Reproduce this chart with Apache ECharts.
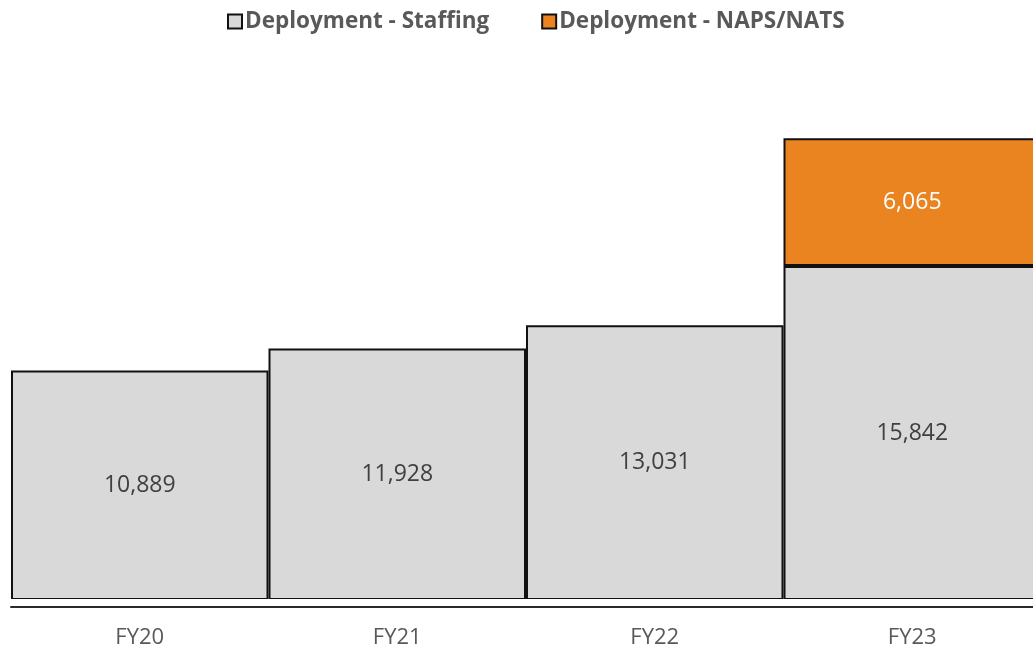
<!DOCTYPE html>
<html>
<head>
<meta charset="utf-8">
<script src="https://cdn.jsdelivr.net/npm/echarts@6/dist/echarts.min.js"></script>
<style>
  html, body { margin: 0; padding: 0; background: #ffffff; }
  #chart { width: 1033px; height: 650px; }
</style>
</head>
<body>
<div id="chart"></div>
<script>
// Fiscal years on the category axis
const categories = ['FY20', 'FY21', 'FY22', 'FY23'];
// Deployment counts per year
const staffing = [10889, 11928, 13031, 15842];
const napsNats = [null, null, null, 6065];
const seriesNames = ['Deployment - Staffing', 'Deployment - NAPS/NATS'];

const FONT = '"Open Sans", "Noto Sans", sans-serif';
const fmt = v => v.toLocaleString('en-US');

const chart = echarts.init(document.getElementById('chart'), null, { renderer: 'canvas' });

chart.setOption({
  animation: false,
  backgroundColor: '#ffffff',
  legend: {
    top: 5,
    left: 222,
    itemWidth: 14,
    itemHeight: 14,
    itemGap: 52,
    icon: 'rect',
    textStyle: { fontFamily: FONT, fontWeight: 'bold', fontSize: 22.5, color: '#595959', padding: [0, 0, 0, -2] },
    data: seriesNames
  },
  grid: {
    left: 11, width: 1030, top: 94, bottom: 50,
    containLabel: false,
    outerBoundsMode: 'none'
  },
  xAxis: [
    {
      type: 'category',
      data: categories,
      offset: 7,
      axisLine: { show: true, onZero: false, lineStyle: { color: '#2a2a2a', width: 2 } },
      axisTick: { show: false },
      axisLabel: { fontFamily: FONT, fontSize: 22, color: '#595959', margin: 20 }
    },
    {
      // baseline strip drawn over the bar bottoms, leaving them open
      type: 'category',
      data: categories,
      position: 'bottom',
      z: 5,
      axisLine: { show: true, onZero: false, lineStyle: { color: '#ffffff', width: 3 } },
      axisTick: { show: false },
      axisLabel: { show: false }
    }
  ],
  yAxis: {
    type: 'value',
    min: 0,
    max: 24000,
    show: false,
    splitLine: { show: false }
  },
  series: [
    {
      name: seriesNames[0],
      type: 'bar',
      stack: 'total',
      barCategoryGap: '0%',
      data: staffing,
      itemStyle: { color: '#d9d9d9', borderColor: '#111111', borderWidth: 2 },
      label: {
        show: true,
        position: 'inside',
        formatter: p => fmt(p.value),
        fontFamily: FONT,
        fontSize: 23,
        color: '#404040'
      }
    },
    {
      name: seriesNames[1],
      type: 'bar',
      stack: 'total',
      barCategoryGap: '0%',
      data: napsNats,
      itemStyle: { color: '#ea8420', borderColor: '#111111', borderWidth: 2 },
      label: {
        show: true,
        position: 'inside',
        formatter: p => (p.value == null ? '' : fmt(p.value)),
        fontFamily: FONT,
        fontSize: 23,
        color: '#ffffff'
      }
    }
  ]
});
</script>
</body>
</html>
